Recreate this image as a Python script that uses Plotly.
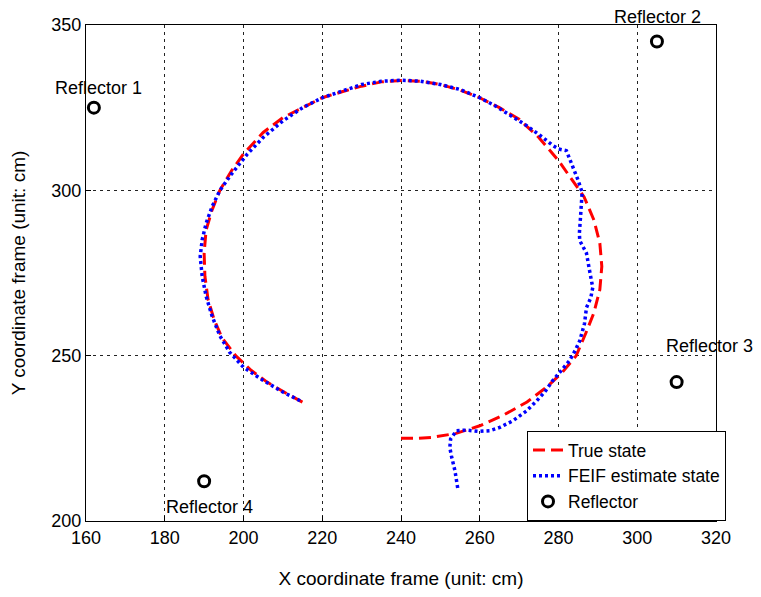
import plotly.graph_objects as go

# True state (red dashed)
true_x = [240, 244, 248, 254, 260, 266, 272, 277, 281, 284.5, 287, 289, 290.5, 291, 290.5,
          289, 286.5, 283, 280, 275, 270, 265, 260, 255, 250, 245, 240, 235, 230, 225,
          220, 215, 210, 205, 200, 197, 194, 192, 190.5, 190, 190.2, 191, 192.5, 194.5,
          198, 202, 206, 211, 216]
true_y = [225, 225, 225.3, 226.5, 228.8, 232, 236, 240.5, 245, 250, 257, 263, 270, 277, 284,
          291, 298, 304, 309, 316, 321.5, 325, 328, 330.3, 332, 333, 333.2, 332.8, 331.5, 329.8,
          328, 325, 322, 317.5, 311, 306, 300, 294, 288, 281, 274, 267, 261, 255.5,
          250, 245.5, 242, 238.5, 235.3]

# FEIF estimate state (blue dotted)
est_x = [254.4, 253.7, 252.8, 252.4, 252.6, 254.1, 256.6, 259.6, 262.5, 265.1, 268.4, 271.9,
         274.5, 276.5, 278.5, 281, 282.8, 284.2, 285.4, 286.6, 287.1, 288.2, 288.7, 288,
         287.1, 285.4, 285.3, 285.6, 285.9, 286, 285, 284, 283, 282, 280, 278.5, 276, 272,
         268, 264, 260, 255, 250, 245, 240, 235, 230, 225, 220, 215, 210, 205, 201, 197, 194,
         192, 190.5, 189.5, 189, 189.5, 190.5, 192, 194, 196.5, 200, 205, 210, 215]
est_y = [210, 215.2, 219.7, 222.2, 224.8, 227.3, 227.5, 227.1, 227.3, 228.3, 230.3, 233.3,
         236.4, 239, 242.4, 246, 248.5, 251.5, 254.5, 259.7, 264.5, 267.5, 270.6, 275,
         281, 284.8, 287, 292, 296, 299.4, 303, 306, 309.5, 312, 312.5, 313.6, 316, 319.5,
         322.5, 325.5, 328, 330.5, 332, 333, 333.3, 333, 332, 330, 328, 325, 321, 316, 311, 305,
         300, 295, 290, 285, 280, 274, 268, 262, 256, 251, 246.5, 242.5, 239, 236]

# Reflectors
refl_x = [162, 305, 310, 190]
refl_y = [325, 345, 242, 212]
refl_names = ["Reflector 1", "Reflector 2", "Reflector 3", "Reflector 4"]
# label offsets from each reflector (pixels, +y is up)
label_dx = [5, 1, 33, 5]
label_dy = [20, 25, 36, -26]

x_ticks = [160, 180, 200, 220, 240, 260, 280, 300, 320]
y_ticks = [200, 250, 300, 350]

FONT = "Liberation Sans, Arial, Helvetica, sans-serif"

fig = go.Figure()
fig.add_trace(go.Scatter(x=true_x, y=true_y, mode="lines", name="True state",
                         line=dict(color="#ff0000", width=3, dash="12px,6px")))
fig.add_trace(go.Scatter(x=est_x, y=est_y, mode="lines", name="FEIF estimate state",
                         line=dict(color="#0000ff", width=3.5, dash="3px,3px")))
fig.add_trace(go.Scatter(x=refl_x, y=refl_y, mode="markers", name="Reflector",
                         marker=dict(symbol="circle-open", size=11, color="black",
                                     line=dict(width=3, color="black")),
                         cliponaxis=False))

for rx, ry, t, dx, dy in zip(refl_x, refl_y, refl_names, label_dx, label_dy):
    fig.add_annotation(x=rx, y=ry, text=t, showarrow=False, xshift=dx, yshift=dy,
                       font=dict(size=18, color="black", family=FONT))

axis_common = dict(showline=True, linecolor="black", linewidth=1, mirror=True,
                   ticks="inside", ticklen=5, tickcolor="black", automargin=False,
                   showgrid=True, gridcolor="#222222", gridwidth=1, griddash="3px,4px",
                   zeroline=False, tickfont=dict(size=18, color="black", family=FONT))

fig.update_xaxes(range=[160, 320], tickvals=x_ticks,
                 title=dict(text="X coordinate frame (unit: cm)", standoff=26,
                            font=dict(size=19, color="black", family=FONT)),
                 **axis_common)
fig.update_yaxes(range=[200, 350], tickvals=y_ticks,
                 title=dict(text="Y coordinate frame (unit: cm)", standoff=22,
                            font=dict(size=19, color="black", family=FONT)),
                 **axis_common)

# page body adds an 8px margin on every side, so the figure is sized to fit inside it
fig.update_layout(
    width=745, height=581,
    margin=dict(l=78, r=37, t=17, b=68, autoexpand=False),
    paper_bgcolor="white", plot_bgcolor="white",
    font=dict(family=FONT, size=18, color="black"),
    showlegend=True,
    legend=dict(x=0.70, y=0.0, xanchor="left", yanchor="bottom",
                bgcolor="white", bordercolor="black", borderwidth=1,
                font=dict(size=17.5, family=FONT, color="black"),
                tracegroupgap=0, itemwidth=30),
)

fig.write_html("out.html")
